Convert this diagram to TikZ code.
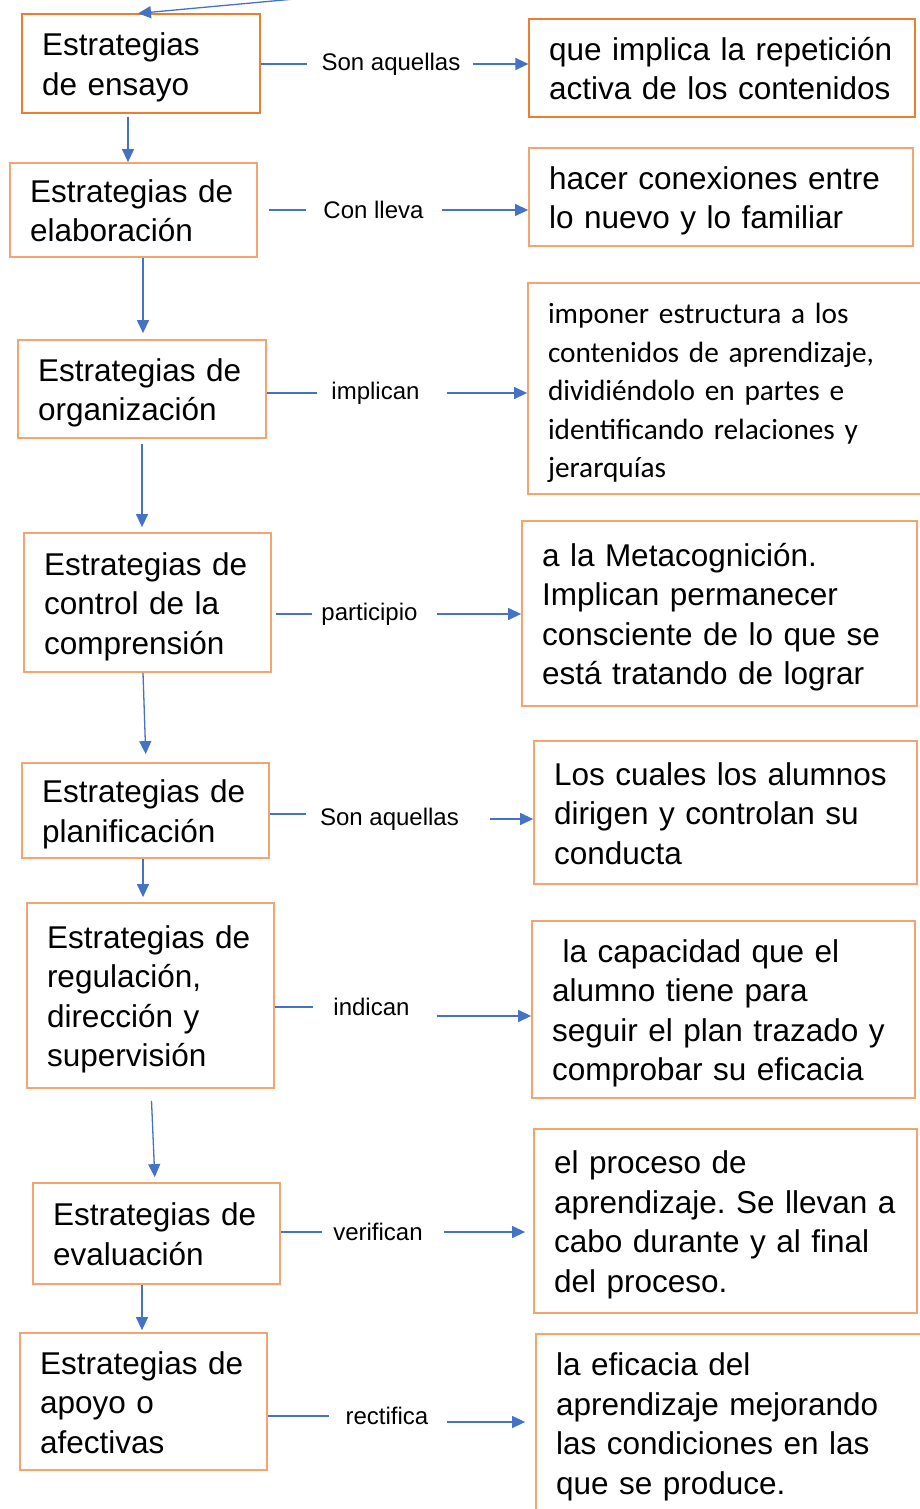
\documentclass[tikz,border=0pt]{standalone}
\usepackage{fontspec}
\setmainfont{Liberation Sans}
\newfontfamily\calibri{Carlito}
\usetikzlibrary{arrows.meta}
\definecolor{boxorange}{HTML}{F4A46E}
\definecolor{toporange}{HTML}{ED7D31}
\definecolor{linkblue}{HTML}{4472C4}
\hyphenpenalty=10000
\frenchspacing

\begin{document}
\begin{tikzpicture}[
    x=1pt, y=-1pt,
    box/.style 2 args={rectangle, draw=boxorange, line width=1.8pt, align=left, inner xsep=20pt, inner ysep=2pt, text width=#1, minimum height=#2, font=\fontsize{31.5}{39.5}\selectfont, execute at begin node=\rule{0pt}{36pt}, execute at end node=\strut},
    topbox/.style={draw=toporange, line width=1.2pt},
    lbl/.style={inner sep=0pt, font=\fontsize{24}{28}\selectfont},
    link/.style={draw=linkblue, line width=1.3pt},
    arrow/.style={link, -{Triangle[length=13pt, width=12pt]}}
]
\useasboundingbox (0,0) rectangle (919,1509);

% Strategies (left column)
\node[box={198pt}{99pt}, topbox] (ens) at (141,63.5) {Estrategias\\de ensayo};
\node[box={207pt}{94pt}] (ela) at (133.5,210) {Estrategias de\\elaboración};
\node[box={208pt}{98pt}] (org) at (142,389) {Estrategias de\\organización};
\node[box={207pt}{139pt}] (con) at (147.5,602.5) {Estrategias de\\control de la\\comprensión};
\node[box={207pt}{95pt}] (pla) at (145.5,810.5) {Estrategias de\\planificación};
\node[box={207pt}{185pt}] (reg) at (150.5,995.5) {Estrategias de\\regulación,\\dirección y\\supervisión};
\node[box={207pt}{101pt}] (eva) at (156.5,1233.5) {Estrategias de\\evaluación};
\node[box={207pt}{137pt}] (apo) at (143.5,1401.5) {Estrategias de\\apoyo o\\afectivas};

% Descriptions (right column)
\node[box={346pt}{98pt}, topbox] (ens_txt) at (722,68) {que implica la repetición\\activa de los contenidos};
\node[box={344pt}{98pt}] (ela_txt) at (721,197) {hacer conexiones entre\\lo nuevo y lo familiar};
\node[box={353pt}{211pt}, font=\calibri\fontsize{29.3}{38.5}\selectfont] (org_txt) at (724.5,388.5) {imponer estructura a los\\contenidos de aprendizaje,\\dividiéndolo en partes e\\identificando relaciones y\\jerarquías};
\node[box={355pt}{185pt}] (con_txt) at (719.5,613.5) {a la Metacognición.\\Implican permanecer\\consciente de lo que se\\está tratando de lograr};
\node[box={343pt}{143pt}] (pla_txt) at (725.5,812.5) {Los cuales los alumnos\\dirigen y controlan su\\conducta};
\node[box={343pt}{177pt}] (reg_txt) at (723.5,1009.5) {\ la capacidad que el\\alumno tiene para\\seguir el plan trazado y\\comprobar su eficacia};
\node[box={343pt}{184pt}] (eva_txt) at (725.5,1221) {el proceso de\\aprendizaje. Se llevan a\\cabo durante y al final\\del proceso.};
\node[box={345pt}{178pt}] (apo_txt) at (728.5,1423) {la eficacia del\\aprendizaje mejorando\\las condiciones en las\\que se produce.};

% Connector labels
\node[lbl] (ens_rel) at (391,64) {Son aquellas};
\node[lbl] (ela_rel) at (373.5,210) {Con lleva};
\node[lbl] (org_rel) at (375.5,393) {implican};
\node[lbl] (con_rel) at (369.5,614) {participio};
\node[lbl] (pla_rel) at (389.5,819) {Son aquellas};
\node[lbl] (reg_rel) at (371.5,1007) {indican};
\node[lbl] (eva_rel) at (378,1232) {verifican};
\node[lbl] (apo_rel) at (387,1416) {rectifica};

% Incoming arrow at the top
\coordinate (src) at (300,-1.5);
\draw[arrow] (src) -- ([xshift=-3pt]ens.north);

% Horizontal connectors
\draw[link, shorten >=14pt] (ens.east |- ens_rel) -- (ens_rel.west);
\draw[arrow, shorten <=12pt] (ens_rel.east) -- (ens_txt.west |- ens_rel);
\draw[link, shorten <=11pt, shorten >=17pt] (ela.east |- ela_rel) -- (ela_rel.west);
\draw[arrow, shorten <=18pt] (ela_rel.east) -- (ela_txt.west |- ela_rel);
\draw[link, shorten >=14pt] (org.east |- org_rel) -- (org_rel.west);
\draw[arrow, shorten <=27pt] (org_rel.east) -- (org_txt.west |- org_rel);
\draw[link, shorten <=4pt, shorten >=9pt] (con.east |- con_rel) -- (con_rel.west);
\draw[arrow, shorten <=19pt] (con_rel.east) -- (con_txt.west |- con_rel);
\draw[link, shorten >=14pt] ([yshift=5pt]pla.east |- pla_rel) -- ([yshift=5pt]pla_rel.west);
\draw[arrow, shorten <=31pt] (pla_rel.east) -- (pla_txt.west |- pla_rel);
\draw[link, shorten >=20pt] (reg.east |- reg_rel) -- (reg_rel.west);
\draw[arrow, shorten <=27pt] ([yshift=-9pt]reg_rel.east) -- ([yshift=-9pt]reg_txt.west |- reg_rel);
\draw[link, shorten >=11pt] (eva.east |- eva_rel) -- (eva_rel.west);
\draw[arrow, shorten <=21pt, shorten >=8pt] (eva_rel.east) -- (eva_txt.west |- eva_rel);
\draw[link, shorten >=16pt] (apo.east |- apo_rel) -- (apo_rel.west);
\draw[arrow, shorten <=18pt, shorten >=10pt] ([yshift=-6pt]apo_rel.east) -- ([yshift=-6pt]apo_txt.west |- apo_rel);

% Vertical arrows down the column
\draw[arrow, shorten <=3pt] ([xshift=-13pt]ens.south) -- ([xshift=-5.5pt]ela.north);
\draw[arrow, shorten >=6pt] ([xshift=9.5pt]ela.south) -- ([xshift=1pt]org.north);
\draw[arrow, shorten <=5pt, shorten >=5pt] (org.south) -- ([xshift=-5.5pt]con.north);
\draw[arrow, shorten >=8pt] ([xshift=-4.5pt]con.south) -- ([xshift=0.5pt]pla.north);
\draw[arrow, shorten >=5pt] ([xshift=-2.5pt]pla.south) -- ([xshift=-7.5pt]reg.north);
\draw[arrow, shorten <=12pt, shorten >=5pt] ([xshift=0.5pt]reg.south) -- ([xshift=-1.5pt]eva.north);
\draw[arrow, shorten >=2pt] ([xshift=-14.5pt]eva.south) -- ([xshift=-1.5pt]apo.north);

\end{tikzpicture}
\end{document}
